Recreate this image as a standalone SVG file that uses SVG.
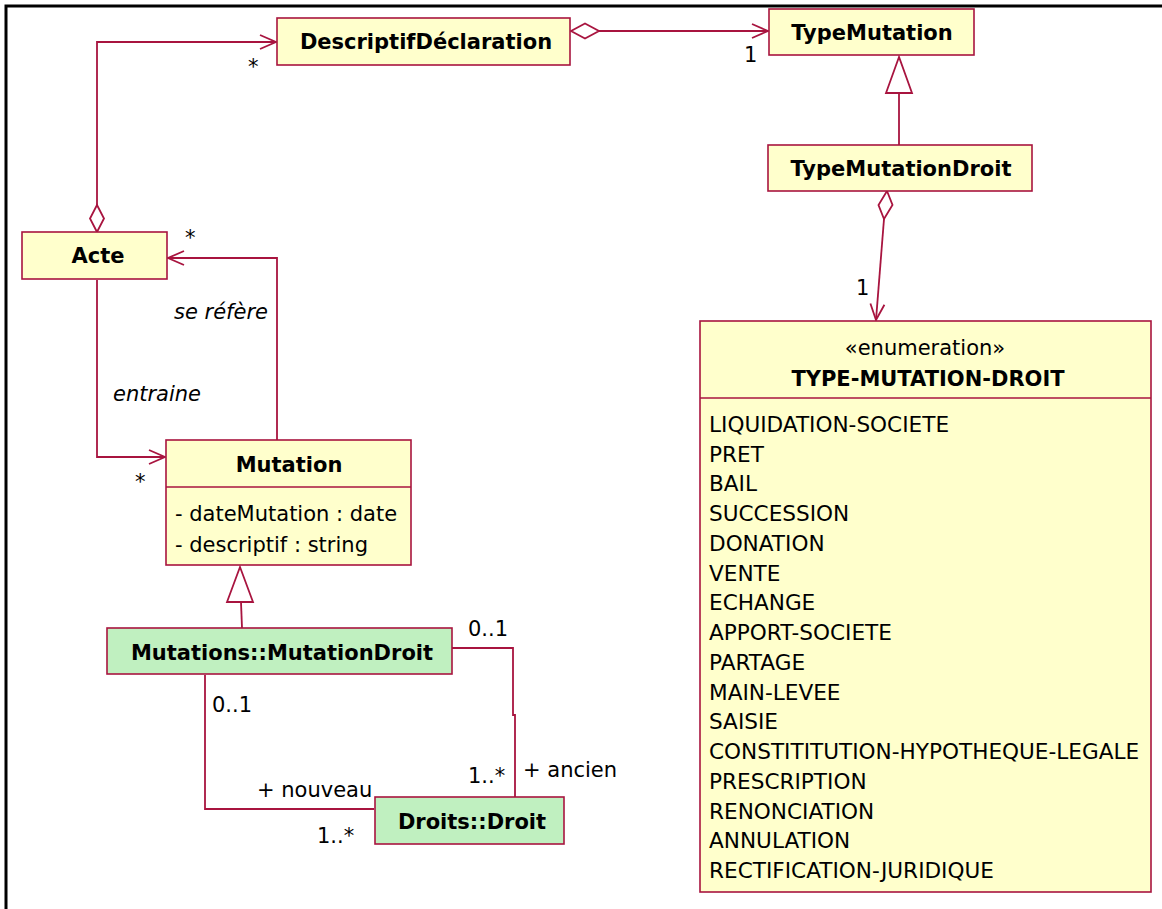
<svg xmlns="http://www.w3.org/2000/svg" width="1162" height="909" viewBox="0 0 1162 909">
<style>
text{font-family:"DejaVu Sans",Verdana,sans-serif;font-size:21px;fill:#000}
.b{font-weight:bold}
.i{font-style:italic}
.m{text-anchor:middle}
.e{text-anchor:end}
.it{font-size:21.6px}
.box{fill:#ffffcc;stroke:#a8143f;stroke-width:1.6}
.grn{fill:#c0f0c0;stroke:#a8143f;stroke-width:1.6}
.ln{fill:none;stroke:#a8143f;stroke-width:1.8}
.hd{fill:none;stroke:#a8143f;stroke-width:1.8;stroke-linejoin:miter}
.dia{fill:#fff;stroke:#a8143f;stroke-width:1.8}
</style>
<rect x="0" y="0" width="1162" height="909" fill="#fff"/>
<path d="M6,909 V6 H1162" fill="none" stroke="#000" stroke-width="3"/>

<g id="connectors">
  <!-- Acte to DescriptifDeclaration -->
  <path class="ln" d="M97,205 V42 H276"/>
  <polygon class="dia" points="97,232 90,218.5 97,205 104,218.5"/>
  <path class="hd" d="M260,35 L276,42 L260,49"/>
  <text x="248" y="74">*</text>
  <!-- DescriptifDeclaration to TypeMutation -->
  <path class="ln" d="M599,31 H768"/>
  <polygon class="dia" points="571,31 585,23.5 599,31 585,38.5"/>
  <path class="hd" d="M752,24 L768,31 L752,38"/>
  <text x="744" y="62">1</text>
  <!-- TypeMutationDroit generalization -->
  <path class="ln" d="M899,145 V93"/>
  <polygon class="dia" points="899,57 886,93 912,93"/>
  <!-- TypeMutationDroit to enumeration -->
  <polygon class="dia" points="887,191 892.5,205 884,219 878.5,205"/>
  <path class="ln" d="M884,219 L876,320"/>
  <path class="hd" d="M870.4,303.5 L876,320 L884.4,304.7"/>
  <text x="856" y="295">1</text>
  <!-- se refere -->
  <path class="ln" d="M277,440 V258 H168"/>
  <path class="hd" d="M184,251 L168,258 L184,265"/>
  <text x="185" y="245">*</text>
  <text class="i e" x="268" y="319">se réfère</text>
  <!-- entraine -->
  <path class="ln" d="M97,280 V457 H165"/>
  <path class="hd" d="M149,450 L165,457 L149,464"/>
  <text x="135" y="489">*</text>
  <text class="i" x="113" y="401">entraine</text>
  <!-- MutationDroit generalization -->
  <path class="ln" d="M242,628 L241,602"/>
  <polygon class="dia" points="240,567 227,602 253,602"/>
  <!-- nouveau -->
  <path class="ln" d="M205,675 V809 H374"/>
  <text x="212" y="712">0..1</text>
  <text x="257" y="797">+ nouveau</text>
  <text x="317" y="843">1..*</text>
  <!-- ancien -->
  <path class="ln" d="M452,648 H513 V715 H515 V797"/>
  <text x="468" y="636">0..1</text>
  <text x="468" y="783">1..*</text>
  <text x="523" y="777">+ ancien</text>
</g>

<g id="DescriptifDeclaration">
  <rect class="box" x="277" y="18" width="293" height="47"/>
  <text class="b m" x="426" y="49">DescriptifDéclaration</text>
</g>
<g id="TypeMutation">
  <rect class="box" x="769" y="9" width="205" height="46"/>
  <text class="b m" x="872" y="40">TypeMutation</text>
</g>
<g id="TypeMutationDroit">
  <rect class="box" x="768" y="145" width="264" height="46"/>
  <text class="b m" x="901" y="176">TypeMutationDroit</text>
</g>
<g id="Acte">
  <rect class="box" x="22" y="232" width="145" height="47"/>
  <text class="b m" x="98" y="263">Acte</text>
</g>
<g id="Mutation">
  <rect class="box" x="166" y="440" width="245" height="125"/>
  <line x1="166" y1="487" x2="411" y2="487" stroke="#a8143f" stroke-width="1.6"/>
  <text class="b m" x="289" y="472">Mutation</text>
  <text x="175" y="521">- dateMutation : date</text>
  <text x="175" y="552">- descriptif : string</text>
</g>
<g id="MutationDroit">
  <rect class="grn" x="107" y="628" width="345" height="46"/>
  <text class="b m" x="282" y="660">Mutations::MutationDroit</text>
</g>
<g id="Droit">
  <rect class="grn" x="375" y="797" width="189" height="47"/>
  <text class="b m" x="472" y="829">Droits::Droit</text>
</g>
<g id="TypeMutationDroitEnum">
  <rect class="box" x="700" y="321" width="451" height="571"/>
  <line x1="700" y1="398" x2="1151" y2="398" stroke="#a8143f" stroke-width="1.6"/>
  <text class="m" x="925" y="355">«enumeration»</text>
  <text class="b m" x="928" y="386">TYPE-MUTATION-DROIT</text>
  <g class="items">
  <text class="it" x="709" y="432">LIQUIDATION-SOCIETE</text>
  <text class="it" x="709" y="462">PRET</text>
  <text class="it" x="709" y="491">BAIL</text>
  <text class="it" x="709" y="521">SUCCESSION</text>
  <text class="it" x="709" y="551">DONATION</text>
  <text class="it" x="709" y="581">VENTE</text>
  <text class="it" x="709" y="610">ECHANGE</text>
  <text class="it" x="709" y="640">APPORT-SOCIETE</text>
  <text class="it" x="709" y="670">PARTAGE</text>
  <text class="it" x="709" y="700">MAIN-LEVEE</text>
  <text class="it" x="709" y="729">SAISIE</text>
  <text class="it" x="709" y="759">CONSTITITUTION-HYPOTHEQUE-LEGALE</text>
  <text class="it" x="709" y="789">PRESCRIPTION</text>
  <text class="it" x="709" y="819">RENONCIATION</text>
  <text class="it" x="709" y="848">ANNULATION</text>
  <text class="it" x="709" y="878">RECTIFICATION-JURIDIQUE</text>
  </g>
</g>
</svg>
